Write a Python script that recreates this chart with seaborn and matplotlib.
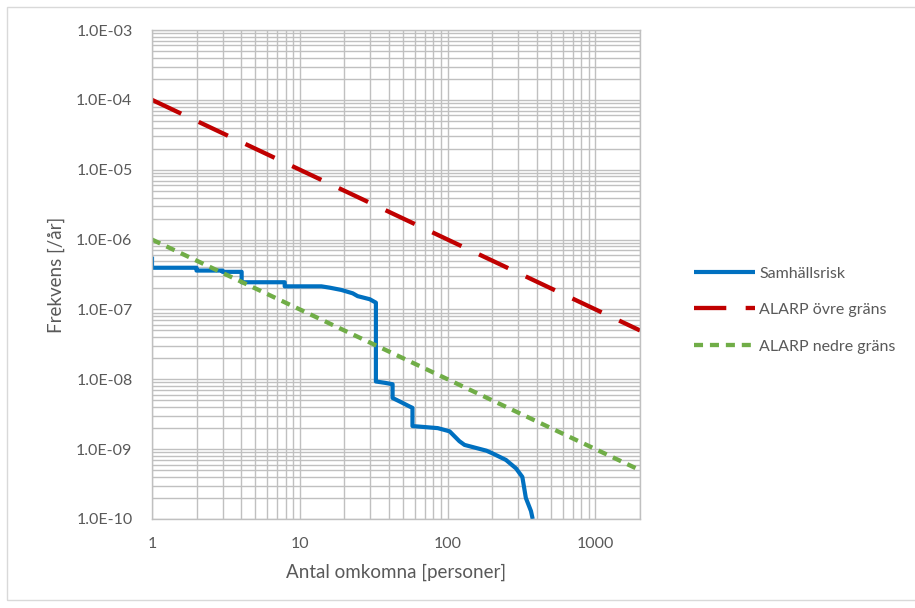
import numpy as np
import pandas as pd
import matplotlib
matplotlib.use("Agg")
import matplotlib.pyplot as plt
import matplotlib.ticker as mticker
import seaborn as sns

# Societal risk (F/N curve): number of fatalities vs cumulative frequency
samhallsrisk_n = [1.0, 1.0, 2.0, 2.0, 3.0, 3.0, 4.04, 4.04, 7.9, 7.9, 14.0,
                  15.9, 19.1, 22.8, 24.6, 29.7, 32.7, 32.7, 37.6, 42.4, 42.4,
                  47.5, 55.0, 57.8, 57.8, 85.6, 103.0, 120.0, 130.0, 183.0,
                  201.0, 248.0, 290.0, 320.0, 338.0, 366.0, 376.0]
samhallsrisk_f = [5.7e-7, 3.95e-7, 3.95e-7, 3.6e-7, 3.6e-7, 3.45e-7, 3.45e-7,
                  2.45e-7, 2.45e-7, 2.14e-7, 2.14e-7, 2.05e-7, 1.9e-7, 1.7e-7,
                  1.55e-7, 1.4e-7, 1.25e-7, 9.3e-9, 8.9e-9, 8.5e-9, 5.4e-9,
                  4.8e-9, 4.1e-9, 3.9e-9, 2.14e-9, 2.0e-9, 1.8e-9, 1.3e-9,
                  1.15e-9, 0.95e-9, 0.87e-9, 0.7e-9, 0.53e-9, 0.4e-9, 0.2e-9,
                  0.13e-9, 1.0e-10]

# ALARP criteria lines (endpoints)
alarp_n = [1, 2000]
alarp_ovre_f = [1e-4, 5e-8]
alarp_nedre_f = [1e-6, 5e-10]

labels = ["Samhällsrisk", "ALARP övre gräns", "ALARP nedre gräns"]
y_ticks = [1e-3, 1e-4, 1e-5, 1e-6, 1e-7, 1e-8, 1e-9, 1e-10]
x_ticks = [1, 10, 100, 1000]

sns.set_theme(style="white")
plt.rcParams["font.family"] = ["Lato", "DejaVu Sans"]

text_col = "#595959"
grid_col = "#C0C0C0"

fig = plt.figure(figsize=(9.15, 6.08), dpi=100)
ax = fig.add_axes([152 / 915, 1 - 519 / 608, (640 - 152) / 915, (519 - 30) / 608])

sns.lineplot(x=samhallsrisk_n, y=samhallsrisk_f, ax=ax, sort=False, estimator=None,
             color="#0070C0", linewidth=3.0, label=labels[0])
sns.lineplot(x=alarp_n, y=alarp_ovre_f, ax=ax, sort=False, estimator=None,
             color="#C00000", linewidth=3.1, label=labels[1])
sns.lineplot(x=alarp_n, y=alarp_nedre_f, ax=ax, sort=False, estimator=None,
             color="#70AD47", linewidth=3.1, label=labels[2])
ax.lines[1].set_dashes([7.5, 4.5])
ax.lines[2].set_dashes([2.1, 1.6])
for ln in ax.lines:
    ln.set_solid_capstyle("butt")
    ln.set_dash_capstyle("butt")

ax.set_xscale("log")
ax.set_yscale("log")
ax.set_xlim(1, 2000)
ax.set_ylim(1e-10, 1e-3)

ax.xaxis.set_major_locator(mticker.FixedLocator(x_ticks))
ax.xaxis.set_major_formatter(mticker.FixedFormatter([str(v) for v in x_ticks]))
ax.xaxis.set_minor_locator(mticker.LogLocator(base=10, subs=np.arange(2, 10), numticks=20))
ax.xaxis.set_minor_formatter(mticker.NullFormatter())
ax.yaxis.set_major_locator(mticker.FixedLocator(y_ticks))
ax.yaxis.set_major_formatter(mticker.FixedFormatter([f"{v:.1E}" for v in y_ticks]))
ax.yaxis.set_minor_locator(mticker.LogLocator(base=10, subs=np.arange(2, 10), numticks=20))
ax.yaxis.set_minor_formatter(mticker.NullFormatter())

ax.grid(True, which="both", color=grid_col, linewidth=1.0)
ax.set_axisbelow(True)
for side, sp in ax.spines.items():
    sp.set_color(grid_col)
    sp.set_linewidth(1.0)
ax.tick_params(which="both", length=0, colors=text_col, labelsize=11.5)
ax.tick_params(axis="x", pad=13)
ax.tick_params(axis="y", pad=14)

ax.set_xlabel("Antal omkomna [personer]", color=text_col, fontsize=13.5, labelpad=9)
ax.set_ylabel("Frekvens [/år]", color=text_col, fontsize=13.5, labelpad=8)

leg = ax.legend(loc="center left", bbox_to_anchor=(688 / 915, 1 - 310 / 608),
                bbox_transform=fig.transFigure, frameon=False, fontsize=11.5,
                handlelength=3.8, labelspacing=1.4, handletextpad=0.25,
                borderaxespad=0)
for t in leg.get_texts():
    t.set_color(text_col)

# Light outer frame around the chart area
fig.add_artist(plt.Rectangle((7 / 915, 8 / 608), 1.2, 1 - 15 / 608,
                             transform=fig.transFigure, fill=False,
                             edgecolor="#D9D9D9", linewidth=1.0))

fig.savefig("out.png", dpi=100)
